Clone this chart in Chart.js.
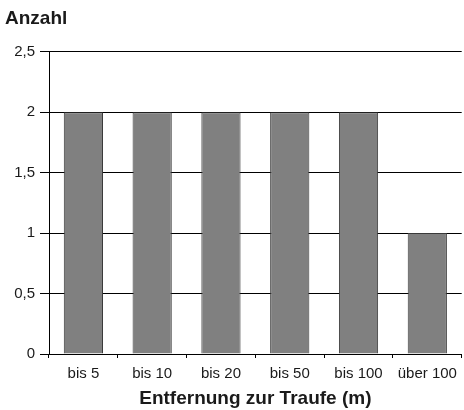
<!DOCTYPE html>
<html>
<head>
<meta charset="utf-8">
<script src="https://cdn.jsdelivr.net/npm/chart.js@4.4.1/dist/chart.umd.min.js"></script>
<style>
  html, body { margin: 0; padding: 0; background: #fff; }
  #wrap { width: 464px; height: 410px; }
</style>
</head>
<body>
<div id="wrap"><canvas id="myChart" width="464" height="410"></canvas></div>
<script>
const gCategories = ['bis 5', 'bis 10', 'bis 20', 'bis 50', 'bis 100', 'über 100']
const gValues = [2, 2, 2, 2, 2, 1]
const gYTicks = [0, 0.5, 1, 1.5, 2, 2.5]

Chart.defaults.font.family = '"Liberation Sans", Arial, sans-serif'
Chart.defaults.color = '#1a1a1a'

const ctx = document.getElementById('myChart').getContext('2d')
new Chart(ctx, {
  type: 'bar',
  data: {
    labels: gCategories,
    datasets: [{
      data: gValues,
      backgroundColor: '#808080',
      borderColor: '#3a3a3a',
      borderWidth: 1,
      barPercentage: 0.57,
      categoryPercentage: 1
    }]
  },
  options: {
    responsive: false,
    animation: false,
    layout: { padding: { left: 5, right: 1, top: 0, bottom: 0 } },
    scales: {
      x: {
        afterFit: (scale) => { scale.height = 56 },
        border: { color: '#000', width: 1 },
        grid: { drawOnChartArea: false, tickColor: '#000', tickLength: 4 },
        ticks: { font: { size: 15 }, padding: 7, maxRotation: 0 },
        title: {
          display: true,
          text: 'Entfernung zur Traufe (m)',
          font: { size: 19, weight: 'bold' },
          color: '#1a1a1a',
          padding: { top: 2, bottom: 0 }
        }
      },
      y: {
        min: 0,
        max: 2.5,
        afterFit: (scale) => { scale.width = 44 },
        afterBuildTicks: (scale) => { scale.ticks = gYTicks.map(v => ({ value: v })) },
        border: { color: '#000', width: 1 },
        grid: { color: '#000', tickColor: '#000', tickLength: 9 },
        ticks: {
          font: { size: 15 },
          padding: 5,
          callback: (v) => String(v).replace('.', ',')
        }
      }
    },
    plugins: {
      legend: { display: false },
      tooltip: { enabled: false },
      title: {
        display: true,
        text: 'Anzahl',
        align: 'start',
        color: '#1a1a1a',
        font: { size: 19, weight: 'bold' },
        padding: { top: 7, bottom: 22 }
      }
    }
  }
})
</script>
</body>
</html>
